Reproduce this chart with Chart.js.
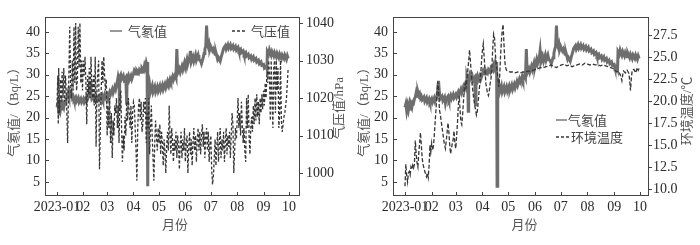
<!DOCTYPE html>
<html><head><meta charset="utf-8">
<script src="https://cdn.jsdelivr.net/npm/chart.js@4"></script>
<style>
html,body{margin:0;padding:0;background:#fff;}
#wrap{position:relative;width:700px;height:245px;overflow:hidden;}
.c{position:absolute;top:0;width:350px;height:245px;}
</style></head><body>
<div id="wrap">
<div class="c" style="left:0"><canvas id="c1" width="350" height="245"></canvas></div>
<div class="c" style="left:350px"><canvas id="c2" width="350" height="245"></canvas></div>
</div>
<script>
// x positions: days since 2023-01-01
const monthDays = [0,31,59,90,120,151,181,212,243,273];
const monthLabels = ['2023-01','02','03','04','05','06','07','08','09','10'];
const radonTicks = [5,10,15,20,25,30,35,40];
const pressureTicks = [1000,1010,1020,1030,1040];
const tempTicks = [10,12.5,15,17.5,20,22.5,25,27.5];

// [day, Bq/L]
const radon = [[0,22.4],[1,23.2],[2,21.6],[3,22.8],[4,21.8],[5,23.0],[6,22.0],[7,23.0],[8,22.4],[9,23.6],[10,23.4],[11,24.4],[12,24.8],[13,25.8],[14,25.0],[15,26.0],[16,25.2],[17,25.6],[18,24.6],[19,25.0],[20,24.2],[22,24.8],[23,23.8],[25,24.6],[26,23.6],[28,24.4],[29,23.6],[31,24.4],[32,23.6],[34,24.6],[35,23.8],[37,24.8],[38,26.4],[39,28.6],[40,25.8],[41,24.4],[43,25.0],[44,24.0],[46,24.8],[47,23.4],[48,24.4],[50,25.0],[51,24.2],[53,25.2],[54,24.4],[56,25.4],[57,24.6],[59,25.4],[60,24.8],[62,26.0],[63,25.4],[65,26.6],[66,25.8],[68,27.2],[69,26.6],[71,28.4],[72,29.6],[73,28.8],[73.5,21.5],[74,29.4],[75,30.0],[76,29.0],[78,29.8],[79,28.8],[81,29.4],[82,23.0],[82.5,29.0],[84,29.8],[85,28.8],[87,29.8],[88,29.0],[90,30.2],[91,31.0],[93,30.2],[94,31.0],[96,30.4],[97,31.2],[99,30.6],[100,31.6],[102,31.0],[103,32.2],[104,31.6],[105,32.8],[106,32.0],[106.5,33.0],[107,4.0],[107.5,27.0],[108,26.2],[109,27.6],[110,26.0],[112,27.4],[113,26.0],[115,27.2],[116,26.0],[118,27.2],[119,26.2],[121,27.4],[122,26.4],[124,27.6],[125,26.6],[127,27.8],[128,27.0],[130,28.4],[131,27.6],[133,29.0],[134,28.4],[136,29.6],[137,28.8],[139,30.0],[140,29.4],[141,36.0],[142,30.4],[144,31.4],[145,30.6],[147,32.0],[148,31.2],[150,32.8],[151,31.8],[153,33.6],[154,32.6],[156,34.0],[157,35.6],[158,33.0],[160,34.2],[161,33.2],[163,34.6],[164,33.4],[166,34.6],[167,33.6],[169,33.2],[170,32.6],[172,34.0],[173,35.0],[174,36.0],[175,36.6],[176,41.5],[177,37.0],[178,36.4],[179,37.2],[180,36.0],[181,36.6],[183,35.6],[184,36.0],[186,34.8],[187,35.2],[189,33.6],[190,34.0],[192,33.2],[193,34.0],[195,35.4],[196,36.2],[198,36.8],[199,36.0],[201,37.0],[202,36.2],[204,37.0],[205,36.2],[207,36.8],[208,36.0],[210,36.6],[211,35.8],[213,36.4],[214,35.6],[216,36.0],[217,35.2],[219,35.6],[220,34.8],[222,35.2],[223,34.4],[225,34.8],[226,34.0],[228,34.4],[229,33.6],[231,34.2],[232,33.4],[234,33.8],[235,33.0],[237,33.4],[238,32.6],[240,33.0],[241,32.2],[243,32.4],[244,31.6],[246,32.0],[247,31.4],[247.5,35.4],[249,34.8],[250,35.8],[252,34.6],[253,35.4],[255,34.4],[256,35.2],[258,34.2],[259,35.0],[261,34.0],[262,34.8],[264,33.8],[265,34.6],[267,33.8],[268,34.6],[270,33.6],[271,34.4],[272,33.8]];

// [day, hPa]
const pressure = [[0,1018],[1,1026],[1.5,1013],[2,1028],[3,1016],[4,1025],[5,1019],[6,1027],[7,1020],[8,1028],[9,1019],[10,1026],[11,1021],[12.5,1008],[13.5,1020],[15,1039],[16,1024],[17,1020],[18,1030],[19,1022],[20,1039],[21,1024],[22,1040],[23,1022],[24,1025],[25,1039],[26,1028],[27,1040],[28,1024],[29,1030],[30,1022],[31,1030],[32,1026],[33,1031],[34,1024],[35,1013],[36,1026],[37,1021],[38,1028],[39,1020],[40,1031],[41,1023],[42,1020],[43,1026],[44,1018],[45,1031],[46,1007],[47,1022],[48,1027],[49,1030],[50,1001],[51,1012],[52,1022],[53,1030],[54,1024],[55,1031],[56,1026],[57,1022],[58,1025],[59,1010],[60,1018],[61,1012],[62,1020],[63,1008],[64,1016],[65,1004],[66,1014],[67,1010],[68,1018],[69,1016],[70,1020],[71,1012],[72,1018],[73,1008],[74,1020],[75,1022],[76,1012],[77,1003],[78,1010],[79,1006],[80,1015],[81,1010],[82,1019],[83,1014],[84,1020],[85,1016],[86,1012],[87,1018],[88,1008],[89,1016],[90,1019],[91,1018],[92,1012],[93,1006],[94,998],[95,1012],[96,1018],[97,1020],[98,1014],[99,1019],[100,1011],[101,1013],[102,1019],[103,1016],[104,1020],[105,1008],[106,1016],[107,1012],[108,1020],[109,1005],[110,1012],[111,1018],[112,1010],[113,1004],[114,998],[115,1008],[116,1014],[117,1010],[118,1006],[119,1012],[120,1008],[121,1013],[122,1005],[123,1011],[124,1008],[125,1002],[126,1009],[127,1006],[128,1000],[129,1007],[130,1011],[131,1006],[132,1018],[133,1010],[134,1005],[135,1012],[136,1008],[137,1003],[138,1009],[139,1006],[140,1011],[141,1004],[142,1010],[143,1007],[144,1001],[145,1008],[146,1011],[147,1004],[148,1009],[149,1006],[150,1012],[151,1003],[152,1008],[153,1010],[154,1000],[155,1007],[156,1011],[157,1005],[158,1009],[159,1002],[160,1008],[161,1012],[162,1006],[163,1010],[164,1003],[165,1009],[166,1012],[167,1006],[168,1011],[169,1005],[170,1010],[171,1013],[172,1007],[173,1011],[174,1004],[175,1010],[176,1012],[177,1006],[178,1011],[179,1003],[180,1008],[181,1010],[182,1001],[183,997],[184,999],[185,1004],[186,1009],[187,1002],[188,1007],[189,1011],[190,1003],[191,1008],[192,1012],[193,1004],[194,1009],[195,1006],[196,1011],[197,1003],[198,1008],[199,1012],[200,1005],[201,1010],[202,1007],[203,1011],[204,1004],[205,1010],[206,1016],[207,1013],[208,1000],[209,1006],[210,1012],[211,1009],[212,1014],[213,1020],[214,1012],[215,1016],[216,1010],[217,1019],[218,1013],[219,1008],[220,1012],[221,1006],[222,1003],[223,1020],[224,1012],[225,1021],[226,1010],[227,1005],[228,1012],[229,1015],[230,1011],[231,1018],[232,1013],[233,1020],[234,1014],[235,1021],[236,1015],[237,1019],[238,1013],[239,1020],[240,1016],[241,1021],[242,1017],[243,1022],[244,1018],[245,1024],[246,1020],[247,1027],[248,1024],[249,1030],[250,1026],[251,1014],[252,1030],[253,1020],[254,1012],[255,1028],[256,1030],[257,1016],[258,1030],[259,1022],[260,1028],[261,1012],[262,1016],[263,1030],[264,1014],[265,1011],[266,1013],[267,1015],[268,1016],[269,1018],[270,1020],[271,1024],[272,1028]];

// [day, °C]
const temperature = [[0,10.3],[1,12.8],[2,11.5],[3,10.8],[4,11.8],[5,12.0],[6,11.6],[7,12.5],[8,12.2],[9,12.7],[10,12.4],[11,12.8],[12,15.5],[13,14.0],[14,13.0],[15,12.5],[16,14.0],[17,15.2],[18,16.4],[19,15.0],[20,13.5],[21,12.8],[22,12.4],[23,12.0],[24,11.7],[25,11.4],[26,11.8],[27,11.3],[28,12.6],[29,15.0],[30,14.2],[31,15.2],[32,14.4],[33,14.8],[34,16.0],[35,17.5],[36,19.0],[37,20.5],[38,22.2],[39,21.5],[40,19.0],[41,18.5],[42,17.8],[43,17.0],[44,16.4],[45,15.6],[46,15.0],[47,14.6],[48,15.5],[49,16.5],[50,17.5],[51,16.5],[52,15.0],[53,14.0],[54,14.6],[55,15.2],[56,15.6],[57,16.6],[58,15.2],[59,14.6],[60,16.0],[61,17.5],[62,19.5],[63,20.6],[64,19.0],[65,17.6],[66,17.3],[67,18.5],[68,20.0],[69,21.5],[70,22.0],[71,21.4],[72,22.5],[73,23.5],[74,24.5],[75,25.8],[76,24.6],[77,23.2],[78,22.0],[79,21.0],[80,20.2],[81,19.5],[82,19.0],[83,18.4],[84,18.8],[85,19.8],[86,21.0],[87,22.0],[88,23.0],[89,24.6],[90,25.8],[91,26.5],[92,25.0],[93,23.5],[94,22.0],[95,21.4],[96,20.8],[97,20.6],[98,21.2],[99,22.0],[100,22.6],[101,24.0],[102,26.0],[103,27.6],[104,27.2],[105,25.4],[106,24.2],[107,23.6],[108,22.6],[109,21.6],[110,22.8],[111,25.0],[112,26.8],[113,28.0],[114,28.7],[115,26.5],[116,24.5],[117,23.8],[118,23.5],[120,23.4],[122,23.3],[125,23.3],[128,23.2],[131,23.3],[134,23.2],[137,23.3],[140,23.3],[143,23.4],[146,23.4],[149,23.5],[152,23.6],[155,23.7],[158,23.8],[161,23.8],[164,23.9],[167,24.0],[170,24.1],[173,23.9],[176,23.8],[179,24.0],[182,24.1],[185,24.2],[188,24.0],[191,24.1],[194,23.9],[197,24.0],[200,24.1],[203,24.2],[206,24.1],[209,24.3],[212,24.2],[215,24.1],[218,24.2],[221,24.1],[224,24.1],[227,24.0],[230,24.1],[233,24.0],[236,23.9],[239,23.8],[242,23.7],[244,23.5],[246,23.3],[248,23.4],[250,23.0],[251,22.7],[252,22.3],[253,23.0],[254,23.4],[256,23.2],[258,23.5],[260,23.2],[261,22.4],[262,21.2],[263,22.6],[264,23.5],[266,23.6],[268,23.2],[270,23.8],[271,23.5],[272,23.7]];

const RADON_COLOR = '#6e6e6e';
const DARK = '#363636';
const TEXT = '#2b2b2b';
const TITLE = '#555555';
const numFont = {family: '"Liberation Serif","DejaVu Serif",serif', size: 14};
const titleFont = '13px "Liberation Serif","Noto Sans CJK SC","Noto Sans CJK JP",serif';
const cjkFont = '13px "Noto Sans CJK SC","Noto Sans CJK JP",sans-serif';

function pts(arr){ return arr.map(p => ({x: p[0], y: p[1]})); }
function setTicks(list){ return s => { s.ticks = list.map(v => ({value: v})); }; }

function decorPlugin(cfg){
  return {
    id: 'decor',
    afterDraw(chart){
      const ctx = chart.ctx, a = chart.chartArea;
      const sx = chart.scales.x, sy = chart.scales.y, sr = chart.scales.y1;
      ctx.save();
      ctx.strokeStyle = '#444'; ctx.lineWidth = 1;
      ctx.strokeRect(Math.round(a.left)+0.5, Math.round(a.top)+0.5, Math.round(a.right-a.left)-1, Math.round(a.bottom-a.top)-1);
      ctx.beginPath();
      monthDays.forEach(d => { const x = Math.round(sx.getPixelForValue(d))+0.5; ctx.moveTo(x, a.bottom); ctx.lineTo(x, a.bottom-4); });
      radonTicks.forEach(v => { const y = Math.round(sy.getPixelForValue(v))+0.5; ctx.moveTo(a.left, y); ctx.lineTo(a.left+4, y); });
      cfg.rightTicks.forEach(v => { const y = Math.round(sr.getPixelForValue(v))+0.5; ctx.moveTo(a.right, y); ctx.lineTo(a.right+3, y); });
      ctx.stroke();
      // axis titles
      ctx.fillStyle = TITLE;
      ctx.textAlign = 'center'; ctx.textBaseline = 'middle';
      ctx.font = cjkFont;
      ctx.fillText('月份', (sx.getPixelForValue(monthDays[0]) + sx.getPixelForValue(monthDays[9]))/2 + 2, 224);
      ctx.font = titleFont;
      ctx.save(); ctx.translate(15, 109); ctx.rotate(-Math.PI/2);
      ctx.fillText('气氡值/（Bq/L）', 0, 0); ctx.restore();
      ctx.save(); ctx.translate(cfg.rightTitleX, cfg.rightTitleY); ctx.rotate(-Math.PI/2);
      ctx.fillText(cfg.rightTitle, 0, 0); ctx.restore();
      // legend
      ctx.font = cjkFont;
      ctx.textAlign = 'left';
      ctx.fillStyle = '#444';
      cfg.legend.forEach(l => {
        ctx.beginPath();
        ctx.strokeStyle = l.color; ctx.lineWidth = 1.4;
        ctx.setLineDash(l.dash || []);
        ctx.moveTo(l.x1, l.y); ctx.lineTo(l.x2, l.y); ctx.stroke();
        ctx.setLineDash([]);
        ctx.fillText(l.text, l.tx, l.y);
      });
      ctx.restore();
    }
  };
}

function makeChart(id, o){
  return new Chart(document.getElementById(id), {
    type: 'line',
    data: { datasets: [
      { label: o.rightLabel, data: pts(o.rightData), yAxisID: 'y1', borderColor: DARK, borderWidth: 1.3, borderDash: o.dash, pointRadius: 0, tension: 0, fill: false },
      { label: '气氡值', data: pts(radon), yAxisID: 'y', borderColor: RADON_COLOR, borderWidth: 3, pointRadius: 0, tension: 0, fill: false }
    ]},
    options: {
      responsive: false, animation: false, devicePixelRatio: 1,
      layout: { padding: { top: 17, left: 0, right: 0, bottom: 0 } },
      plugins: { legend: { display: false }, tooltip: { enabled: false } },
      scales: {
        x: { type: 'linear', min: o.xmin, max: o.xmax,
             afterBuildTicks: setTicks(monthDays),
             afterFit: s => { s.height = 49; },
             grid: { display: false, drawTicks: false }, border: { display: false },
             ticks: { autoSkip: false, maxRotation: 0, padding: 3, font: numFont, color: TEXT,
                      callback: v => monthLabels[monthDays.indexOf(v)] } },
        y: { position: 'left', min: 1.7, max: 43.5,
             afterBuildTicks: setTicks(radonTicks),
             afterFit: s => { s.width = o.leftW; },
             grid: { display: false, drawTicks: false }, border: { display: false },
             ticks: { padding: 5, font: numFont, color: TEXT } },
        y1: { position: 'right', min: o.rmin, max: o.rmax,
             afterBuildTicks: setTicks(o.rightTicks),
             afterFit: s => { s.width = o.rightW; },
             grid: { display: false, drawTicks: false }, border: { display: false },
             ticks: { padding: o.rpad, font: numFont, color: TEXT, callback: o.rfmt } }
      }
    },
    plugins: [decorPlugin(o)]
  });
}

makeChart('c1', {
  xmin: -14.1, xmax: 285.9, leftW: 45, rightW: 50,
  rmin: 993.9, rmax: 1041.6, rightTicks: pressureTicks, rpad: 6, rfmt: v => String(v),
  rightData: pressure, rightLabel: '气压值', dash: [3, 2],
  rightTitle: '气压值/hPa', rightTitleX: 340, rightTitleY: 108,
  legend: [
    { x1: 110, x2: 122, y: 31, color: RADON_COLOR, text: '气氡值', tx: 128 },
    { x1: 232, x2: 246, y: 31, color: DARK, dash: [3, 2], text: '气压值', tx: 251 }
  ]
});

makeChart('c2', {
  xmin: -13.9, xmax: 283.5, leftW: 43, rightW: 51,
  rmin: 9.2, rmax: 29.55, rightTicks: tempTicks, rpad: 4, rfmt: v => v.toFixed(1),
  rightData: temperature, rightLabel: '环境温度', dash: [4, 2],
  rightTitle: '环境温度/℃', rightTitleX: 338, rightTitleY: 111,
  legend: [
    { x1: 206, x2: 217, y: 120, color: RADON_COLOR, text: '气氡值', tx: 218 },
    { x1: 206, x2: 220, y: 137, color: DARK, dash: [3, 2], text: '环境温度', tx: 221 }
  ]
});
</script>
</body></html>
